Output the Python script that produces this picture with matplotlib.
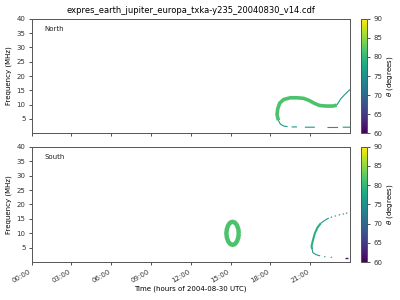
import numpy as np
import matplotlib
matplotlib.use("Agg")
import matplotlib.pyplot as plt
from matplotlib import cm, colors

title = "expres_earth_jupiter_europa_txka-y235_20040830_v14.cdf"
xtick_hours = [0, 3, 6, 9, 12, 15, 18, 21]
xtick_labels = ["00:00", "03:00", "06:00", "09:00", "12:00", "15:00", "18:00", "21:00"]
ytick_vals = [5, 10, 15, 20, 25, 30, 35, 40]
cbar_ticks = [60, 65, 70, 75, 80, 85, 90]

# North hemisphere emission (hours, MHz), theta in degrees
north_thick_h = [18.6, 18.5, 18.55, 18.7, 19.0, 19.5, 20.0, 20.5, 20.9, 21.3, 21.7, 22.2, 22.7, 23.0]
north_thick_f = [4.5, 6.5, 8.5, 10.5, 11.8, 12.4, 12.4, 12.2, 11.5, 10.5, 9.7, 9.5, 9.5, 9.8]
north_thick_theta = 81.5
north_rise_h = [23.0, 23.3, 23.6, 24.0]
north_rise_f = [9.8, 12.0, 13.5, 15.3]
north_rise_theta = 76
north_low_h = [18.6, 18.75, 19.0, 19.3, np.nan, 19.6, 20.0, np.nan, 20.6, 21.35, np.nan, 22.3, 23.1, np.nan, 23.45, 24.0]
north_low_f = [4.5, 3.2, 2.5, 2.3, np.nan, 2.2, 2.2, np.nan, 2.1, 2.1, np.nan, 2.0, 2.0, np.nan, 2.1, 2.1]
north_low_theta = 76

# South hemisphere emission
south_ring_h = [15.62, 15.58, 15.48, 15.33, 15.15, 14.97, 14.82, 14.72, 14.68, 14.72, 14.82, 14.97, 15.15, 15.33, 15.48, 15.58, 15.62]
south_ring_f = [10.0, 11.5, 12.8, 13.7, 14.0, 13.7, 12.8, 11.5, 10.0, 8.5, 7.2, 6.3, 6.0, 6.3, 7.2, 8.5, 10.0]
south_ring_theta = 81.5
south_arc_h = [21.15, 21.1, 21.2, 21.35, 21.55, 21.8]
south_arc_f = [4.5, 5.5, 7.5, 10.0, 12.0, 13.5]
south_arc_theta = 79
south_up_h = [21.8, 22.1, 22.4, np.nan, 22.55, 22.65, np.nan, 22.85, 22.95, np.nan, 23.15, 23.25, np.nan, 23.45, 23.55, np.nan, 23.7, 23.8]
south_up_f = [13.5, 14.5, 15.3, np.nan, 15.5, 15.7, np.nan, 15.9, 16.1, np.nan, 16.3, 16.5, np.nan, 16.6, 16.8, np.nan, 16.9, 17.1]
south_up_theta = 75
south_low_h = [21.15, 21.2, 21.45, 21.75, np.nan, 22.05, 22.15, np.nan, 22.55, 22.65]
south_low_f = [4.5, 3.3, 2.6, 2.2, np.nan, 1.9, 1.9, np.nan, 1.7, 1.7]
south_low_theta = 76
south_purple_h = [23.6, 23.85]
south_purple_f = [1.4, 1.4]
south_purple_theta = 62

cmap = plt.get_cmap("viridis")
norm = colors.Normalize(vmin=60, vmax=90)

fig = plt.figure(figsize=(4, 3), dpi=100)
ax1 = fig.add_axes([0.079, 0.556, 0.796, 0.381])
ax2 = fig.add_axes([0.079, 0.126, 0.796, 0.385])
cax1 = fig.add_axes([0.902, 0.556, 0.0165, 0.381])
cax2 = fig.add_axes([0.902, 0.126, 0.0165, 0.385])

def draw(ax, h, f, th, lw):
    ax.plot(h, f, color=cmap(norm(th)), lw=lw, solid_capstyle="butt")

draw(ax1, north_thick_h, north_thick_f, north_thick_theta, 2.6)
draw(ax1, north_rise_h, north_rise_f, north_rise_theta, 0.8)
draw(ax1, north_low_h, north_low_f, north_low_theta, 0.8)

draw(ax2, south_ring_h, south_ring_f, south_ring_theta, 3.2)
draw(ax2, south_arc_h, south_arc_f, south_arc_theta, 1.5)
draw(ax2, south_up_h, south_up_f, south_up_theta, 0.8)
draw(ax2, south_low_h, south_low_f, south_low_theta, 0.8)
draw(ax2, south_purple_h, south_purple_f, south_purple_theta, 1.0)

for ax, name, cax in [(ax1, "North", cax1), (ax2, "South", cax2)]:
    ax.set_xlim(0, 24)
    ax.set_ylim(0, 40)
    ax.set_yticks(ytick_vals)
    ax.set_xticks(xtick_hours)
    ax.set_ylabel("Frequency (MHz)", fontsize=5, labelpad=3)
    ax.tick_params(labelsize=5, length=2.5, width=0.6, colors="#333333", pad=2)
    for s in ax.spines.values():
        s.set_linewidth(0.7)
        s.set_color("#555555")
    ax.text(0.04, 0.91, name, transform=ax.transAxes, fontsize=5, va="center", color="#222222")
    sm = cm.ScalarMappable(norm=norm, cmap=cmap)
    cb = fig.colorbar(sm, cax=cax, ticks=cbar_ticks)
    cb.set_label(r"$\theta$ (degrees)", fontsize=5, labelpad=2)
    cb.ax.tick_params(labelsize=5, length=2.5, width=0.6, colors="#333333", pad=2)
    cb.outline.set_linewidth(0.7)
    cb.outline.set_edgecolor("#555555")

ax1.set_xticklabels([])
ax2.set_xticklabels(xtick_labels, rotation=30, ha="right")
ax2.set_xlabel("Time (hours of 2004-08-30 UTC)", fontsize=5, labelpad=1)
ax1.set_title(title, fontsize=6, pad=4)

fig.savefig("out.png", dpi=100)
